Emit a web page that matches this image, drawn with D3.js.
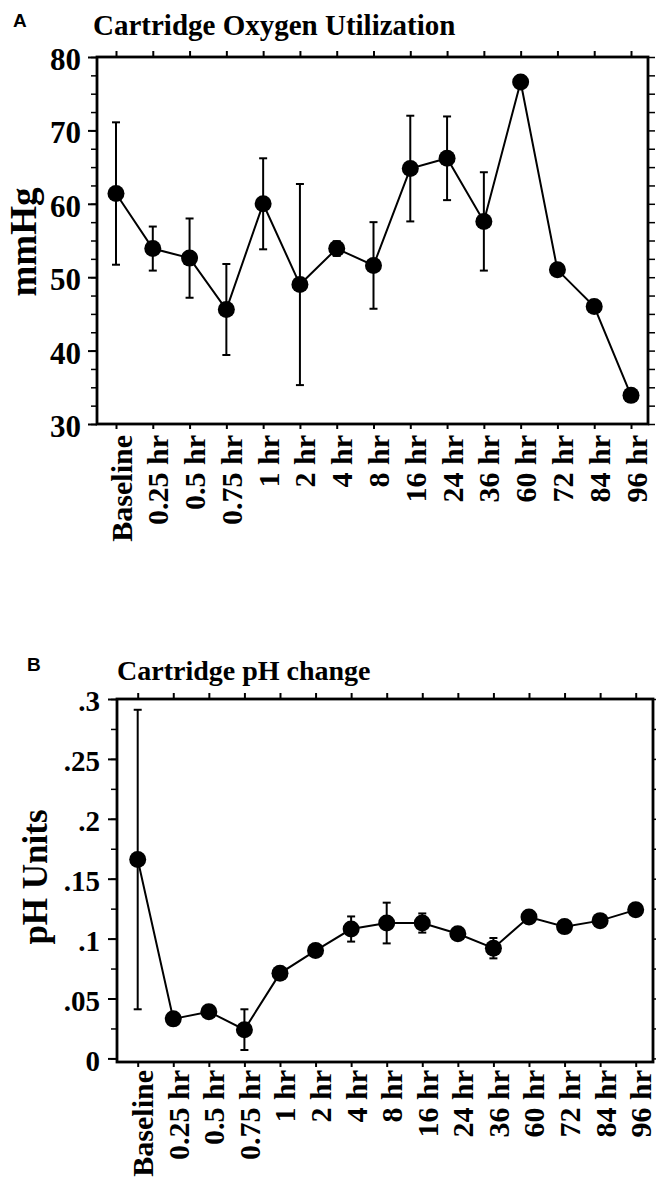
<!DOCTYPE html>
<html>
<head>
<meta charset="utf-8">
<script src="https://cdn.jsdelivr.net/npm/d3@7/dist/d3.min.js"></script>
<style>
  html, body { margin: 0; padding: 0; background: #fff; }
  svg { display: block; }
  text { font-family: "Liberation Serif", "Times New Roman", serif; font-weight: bold; fill: #000; }
  .panel-letter { font-family: "Liberation Sans", Arial, sans-serif; font-weight: bold; }
</style>
</head>
<body>
<svg id="chart" width="656" height="1181"></svg>
<script>
// ---------- data ----------
const categories = ["Baseline", "0.25 hr", "0.5 hr", "0.75 hr", "1 hr", "2 hr", "4 hr", "8 hr",
                    "16 hr", "24 hr", "36 hr", "60 hr", "72 hr", "84 hr", "96 hr"];

// Panel A: Cartridge Oxygen Utilization (mmHg)
const oxyMean = [61.4, 53.9, 52.6, 45.6, 60.0, 49.0, 53.9, 51.6, 64.8, 66.2, 57.6, 76.6, 51.0, 46.0, 33.9];
const oxyErr  = [ 9.7,  3.0,  5.4,  6.2,  6.2, 13.7,  1.0,  5.9,  7.2,  5.7,  6.7,  0,    0,    0,    0  ];
const oxyTicks = [30, 40, 50, 60, 70, 80];
const oxyTickLabels = ["30", "40", "50", "60", "70", "80"];

// Panel B: Cartridge pH change (pH Units)
const phMean = [0.166, 0.033, 0.039, 0.024, 0.071, 0.090, 0.108, 0.113, 0.113, 0.104, 0.092, 0.118, 0.110, 0.115, 0.124];
const phErr  = [0.125, 0,     0.004, 0.017, 0,     0.003, 0.0105, 0.017, 0.008, 0.004, 0.0085, 0,   0,     0,     0    ];
const phTicks = [0, 0.05, 0.1, 0.15, 0.2, 0.25, 0.3];
const phTickLabels = ["0", ".05", ".1", ".15", ".2", ".25", ".3"];

const svg = d3.select("#chart");

function drawPanel(cfg) {
  const g = svg.append("g");
  const L = cfg.left, R = cfg.right, T = cfg.top, B = cfg.bottom;

  const x = d3.scalePoint().domain(categories).range([L + cfg.padL, R - cfg.padR]);
  const y = d3.scaleLinear().domain(cfg.domain).range([B, T]);

  // panel letter
  g.append("text").attr("class", "panel-letter")
    .attr("x", cfg.letterX).attr("y", cfg.letterY)
    .attr("font-size", 19).text(cfg.letter);

  // title
  g.append("text").attr("x", cfg.titleX).attr("y", cfg.titleY)
    .attr("font-size", cfg.titleSize).text(cfg.title);

  // y title
  g.append("text")
    .attr("transform", `translate(${cfg.yTitleX},${cfg.yTitleY}) rotate(-90)`)
    .attr("text-anchor", "middle")
    .attr("font-size", cfg.yTitleSize).text(cfg.yTitle);

  // minor ticks left
  const minor = d3.range(cfg.domain[0] < 0 ? 0 : cfg.domain[0], cfg.domain[1] + 1e-9, cfg.minorStep)
    .filter(v => v >= cfg.minVis);
  const leftMinor = g.append("g").attr("transform", `translate(${L},0)`)
    .call(d3.axisLeft(y).tickValues(minor).tickSize(6).tickFormat("").tickSizeOuter(0));
  leftMinor.select(".domain").remove();
  leftMinor.selectAll("line").attr("stroke-width", 1.5);

  // major left axis
  const left = g.append("g").attr("transform", `translate(${L},0)`)
    .call(d3.axisLeft(y).tickValues(cfg.ticks).tickSize(9).tickPadding(cfg.tickPad)
      .tickFormat((d, i) => cfg.tickLabels[i]).tickSizeOuter(0));
  left.select(".domain").remove();
  left.selectAll("line").attr("stroke-width", 2);
  left.selectAll("text").attr("font-size", cfg.tickSize).attr("dy", "0.4em")
    .style("font-family", '"Liberation Serif", serif').style("font-weight", "bold");

  // right axis ticks
  const right = g.append("g").attr("transform", `translate(${R},0)`)
    .call(d3.axisRight(y).tickValues(minor).tickSize(7).tickFormat("").tickSizeOuter(0));
  right.select(".domain").remove();
  right.selectAll("line").attr("stroke-width", 1.5);

  // top axis ticks
  const top = g.append("g").attr("transform", `translate(0,${T})`)
    .call(d3.axisTop(x).tickSize(6).tickFormat("").tickSizeOuter(0));
  top.select(".domain").remove();
  top.selectAll("line").attr("stroke-width", 2);

  // bottom axis
  const bottom = g.append("g").attr("transform", `translate(0,${B})`)
    .call(d3.axisBottom(x).tickSize(5).tickSizeOuter(0));
  bottom.select(".domain").remove();
  bottom.selectAll("line").attr("stroke-width", 2);
  bottom.selectAll("text")
    .attr("transform", "rotate(-90)")
    .attr("text-anchor", "end")
    .attr("x", -cfg.labelGap).attr("y", 0).attr("dy", "0.5em")
    .attr("font-size", cfg.xLabelSize)
    .style("font-family", '"Liberation Serif", serif').style("font-weight", "bold");

  // frame
  g.append("rect").attr("x", L).attr("y", T).attr("width", R - L).attr("height", B - T)
    .attr("fill", "none").attr("stroke", "#000").attr("stroke-width", 2.8);

  // error bars
  const data = categories.map((c, i) => ({ c, m: cfg.mean[i], e: cfg.err[i] }));
  const eb = g.append("g").attr("stroke", "#000").attr("stroke-width", 2);
  data.filter(d => d.e > 0).forEach(d => {
    const cx = x(d.c);
    eb.append("line").attr("x1", cx).attr("x2", cx).attr("y1", y(d.m - d.e)).attr("y2", y(d.m + d.e));
    [d.m - d.e, d.m + d.e].forEach(v => {
      eb.append("line").attr("x1", cx - 4).attr("x2", cx + 4).attr("y1", y(v)).attr("y2", y(v));
    });
  });

  // line
  g.append("path").datum(data)
    .attr("fill", "none").attr("stroke", "#000").attr("stroke-width", 2)
    .attr("d", d3.line().x(d => x(d.c)).y(d => y(d.m)));

  // dots
  g.selectAll("circle.dot").data(data).enter().append("circle")
    .attr("class", "dot").attr("cx", d => x(d.c)).attr("cy", d => y(d.m))
    .attr("r", 8.5).attr("fill", "#000");
}

drawPanel({
  letter: "A", letterX: 13, letterY: 27,
  title: "Cartridge Oxygen Utilization", titleX: 93, titleY: 35, titleSize: 29,
  yTitle: "mmHg", yTitleX: 36, yTitleY: 242, yTitleSize: 37,
  left: 97, right: 648, top: 57, bottom: 424, padL: 19, padR: 17,
  domain: [30, 80], ticks: oxyTicks, tickLabels: oxyTickLabels, minorStep: 2.5, minVis: 30,
  tickSize: 31, tickPad: 7, labelGap: 11, xLabelSize: 30,
  mean: oxyMean, err: oxyErr
});

drawPanel({
  letter: "B", letterX: 27, letterY: 671,
  title: "Cartridge pH change", titleX: 117, titleY: 680, titleSize: 28,
  yTitle: "pH Units", yTitleX: 47, yTitleY: 877, yTitleSize: 35,
  left: 117, right: 653, top: 699, bottom: 1062, padL: 20.7, padR: 17.3,
  domain: [-0.003, 0.3], ticks: phTicks, tickLabels: phTickLabels, minorStep: 0.025, minVis: 0,
  tickSize: 29, tickPad: 8, labelGap: 8, xLabelSize: 30,
  mean: phMean, err: phErr
});
</script>
</body>
</html>
